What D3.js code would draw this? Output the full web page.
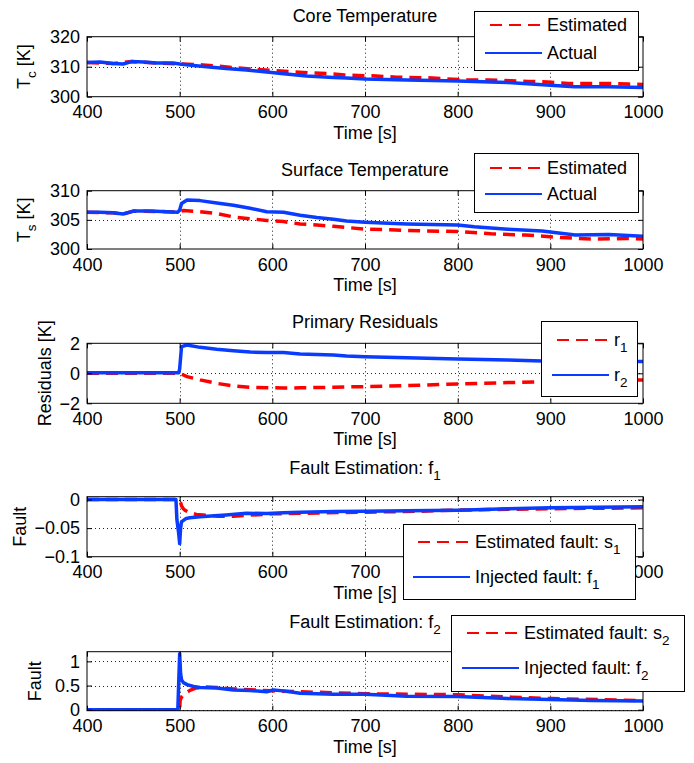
<!DOCTYPE html>
<html>
<head>
<meta charset="utf-8">
<script src="https://cdn.jsdelivr.net/npm/d3@7"></script>
<style>
  body { margin: 0; background: #fff; }
  text { font-family: "Liberation Sans", Arial, Helvetica, sans-serif; fill: #000; }
</style>
</head>
<body>
<div id="Figure"></div>
<script>
//////////////////////////////////////////////////////////////////////////
// data

var timeTicks = [400, 500, 600, 700, 800, 900, 1000];

// core temperature [K]
var coreActualTime = [400, 414, 428, 439, 448, 461, 475, 493, 500, 515, 529, 550, 572, 594, 615, 637, 666, 680, 700, 745, 800, 854, 900, 926, 962, 1000];
var coreActual     = [311.4, 311.6, 311.1, 310.9, 311.7, 311.6, 311.2, 311.2, 310.9, 310.4, 310.0, 309.4, 308.9, 308.2, 307.6, 306.9, 306.4, 306.2, 305.9, 305.6, 305.2, 304.7, 303.8, 303.3, 303.3, 303.1];
var coreEstTime    = [400, 428, 448, 475, 500, 525, 542, 560, 580, 602, 622, 645, 666, 678, 712, 734, 768, 789, 811, 833, 858, 876, 897, 919, 941, 962, 984, 1000];
var coreEstimated  = [311.4, 311.1, 311.7, 311.2, 310.9, 310.6, 310.2, 309.6, 309.2, 308.7, 308.3, 307.9, 307.6, 307.2, 306.9, 306.5, 306.3, 305.9, 305.6, 305.6, 305.3, 305.1, 304.9, 304.4, 304.4, 304.4, 304.2, 304.1];
var coreTicks = [300, 310, 320];

// surface temperature [K]
var surfActualTime = [400, 414, 428, 439, 450, 468, 486, 498, 500, 502, 508, 522, 540, 558, 576, 594, 612, 630, 648, 666, 680, 700, 745, 800, 818, 854, 891, 927, 963, 1000];
var surfActual     = [306.3, 306.3, 306.2, 306.0, 306.5, 306.5, 306.4, 306.3, 306.7, 307.8, 308.4, 308.3, 307.9, 307.5, 307.0, 306.4, 306.3, 305.8, 305.4, 305.1, 304.8, 304.6, 304.3, 304.1, 303.8, 303.4, 303.1, 302.4, 302.5, 302.2];
var surfEstTime    = [400, 428, 439, 450, 486, 498, 500, 504, 522, 540, 558, 576, 594, 612, 630, 648, 666, 680, 700, 727, 764, 800, 836, 873, 909, 945, 982, 1000];
var surfEstimated  = [306.3, 306.2, 306.0, 306.5, 306.4, 306.3, 306.4, 306.6, 306.4, 306.1, 305.5, 305.2, 304.9, 304.7, 304.3, 304.1, 303.9, 303.7, 303.4, 303.3, 303.1, 303.0, 302.6, 302.4, 302.0, 301.7, 301.8, 301.7];
var surfTicks = [300, 305, 310];

// primary residuals [K]
var r1Time = [400, 500, 508, 522, 540, 558, 576, 594, 612, 630, 666, 680, 700, 745, 800, 854, 891, 1000];
var r1     = [0, 0, -0.22, -0.44, -0.67, -0.84, -0.93, -0.96, -0.98, -0.97, -0.93, -0.91, -0.89, -0.82, -0.71, -0.62, -0.56, -0.44];
var r2Time = [400, 450, 499, 500, 502, 508, 522, 540, 558, 576, 594, 612, 630, 666, 680, 700, 745, 800, 854, 891, 1000];
var r2     = [0.03, 0.03, 0.03, 0.3, 1.78, 1.89, 1.73, 1.6, 1.51, 1.42, 1.38, 1.38, 1.29, 1.22, 1.16, 1.11, 1.04, 0.96, 0.89, 0.82, 0.78];
var resTicks = [-2, 0, 2];

// fault f1
var s1Time = [400, 499, 500, 501, 502, 504, 506, 511, 518, 525, 540, 558, 600, 700, 745, 800, 854, 900, 1000];
var s1     = [0, 0, -0.002, -0.005, -0.011, -0.016, -0.019, -0.023, -0.026, -0.027, -0.029, -0.029, -0.025, -0.022, -0.021, -0.0185, -0.017, -0.016, -0.0145];
var f1Time = [400, 496, 497, 499, 500, 501, 502, 507, 511, 522, 550, 572, 594, 612, 630, 666, 700, 745, 800, 854, 900, 1000];
var f1     = [0, 0, -0.035, -0.06, -0.077, -0.05, -0.039, -0.033, -0.032, -0.030, -0.027, -0.024, -0.0244, -0.023, -0.022, -0.021, -0.0205, -0.0195, -0.0185, -0.0163, -0.0145, -0.0128];
var f1Ticks = [-0.1, -0.05, 0];

// fault f2
var s2Time = [400, 500, 500.5, 502, 506, 511, 518, 529, 540, 558, 600, 700, 800, 858, 902, 1000];
var s2     = [0, 0, 0.2, 0.26, 0.34, 0.40, 0.45, 0.47, 0.46, 0.43, 0.39, 0.33, 0.31, 0.26, 0.23, 0.19];
var f2Time = [400, 498, 500, 501, 502, 504, 508, 515, 522, 540, 558, 576, 594, 601, 612, 630, 648, 666, 700, 745, 800, 854, 900, 945, 1000];
var f2     = [0, 0, 1.16, 0.75, 0.62, 0.56, 0.52, 0.48, 0.46, 0.45, 0.41, 0.40, 0.37, 0.41, 0.39, 0.34, 0.33, 0.32, 0.32, 0.28, 0.276, 0.23, 0.21, 0.19, 0.18];
var f2Ticks = [0, 0.5, 1];

//////////////////////////////////////////////////////////////////////////
// layout constants

var Width = 694;
var Height = 763;
var Left = 87;        // left edge of all axes
var Right = 643;      // right edge of all axes
var FontSize = 18;
var SubSize = 13.5;   // subscript size
var Red = "#ff0000";
var Blue = "#0a3cff";
var Dash = "12,7";

var panels = [
  { top: 36.7, bottom: 96.7, yDomain: [300, 320], yTicks: coreTicks, yGrid: [310],
    title: ["Core Temperature"], yLabel: ["T", "c", " [K]"], yLabelX: 24, titleUp: 15,
    series: [
      { name: ["Estimated"], time: coreEstTime, values: coreEstimated, color: Red, dashed: true },
      { name: ["Actual"], time: coreActualTime, values: coreActual, color: Blue, dashed: false } ],
    legend: { x: 474, y: 11, w: 164, h: 59, textX: 547, rows: [25, 53] } },
  { top: 190.7, bottom: 249, yDomain: [300, 310], yTicks: surfTicks, yGrid: [305],
    title: ["Surface Temperature"], yLabel: ["T", "s", " [K]"], yLabelX: 24, titleUp: 15,
    series: [
      { name: ["Estimated"], time: surfEstTime, values: surfEstimated, color: Red, dashed: true },
      { name: ["Actual"], time: surfActualTime, values: surfActual, color: Blue, dashed: false } ],
    legend: { x: 474, y: 153, w: 164, h: 59, textX: 547, rows: [168, 194] } },
  { top: 343.3, bottom: 403.3, yDomain: [-2, 2], yTicks: resTicks, yGrid: [0],
    title: ["Primary Residuals"], yLabel: ["Residuals [K]"], yLabelX: 45, titleUp: 15,
    series: [
      { name: ["r", "1"], time: r1Time, values: r1, color: Red, dashed: true },
      { name: ["r", "2"], time: r2Time, values: r2, color: Blue, dashed: false } ],
    legend: { x: 541, y: 321, w: 96, h: 75, textX: 614, rows: [340, 375] } },
  { top: 496.7, bottom: 556.7, yDomain: [-0.1, 0.005], yTicks: f1Ticks, yGrid: [-0.05, 0],
    title: ["Fault Estimation: f", "1"], yLabel: ["Fault"], yLabelX: 20, titleUp: 23,
    series: [
      { name: ["Estimated fault: s", "1"], time: s1Time, values: s1, color: Red, dashed: true },
      { name: ["Injected fault: f", "1"], time: f1Time, values: f1, color: Blue, dashed: false } ],
    legend: { x: 403, y: 524, w: 232, h: 75, textX: 475, rows: [542, 577] } },
  { top: 651.7, bottom: 710.7, yDomain: [-0.02, 1.2], yTicks: f2Ticks, yGrid: [0, 0.5, 1],
    title: ["Fault Estimation: f", "2"], yLabel: ["Fault"], yLabelX: 35, titleUp: 24,
    series: [
      { name: ["Estimated fault: s", "2"], time: s2Time, values: s2, color: Red, dashed: true },
      { name: ["Injected fault: f", "2"], time: f2Time, values: f2, color: Blue, dashed: false } ],
    legend: { x: 451, y: 615, w: 233, h: 76, textX: 524, rows: [633, 668] } }
];

//////////////////////////////////////////////////////////////////////////
// functions

function initialize () {
  var svg = d3.select("#Figure").append("svg")
      .attr("width", Width)
      .attr("height", Height);

  svg.append("rect").attr("width", Width).attr("height", Height).attr("fill", "#fff");

  panels.forEach(function (p, i) { drawPanel(svg, p, i); });
} // end initialize

// write text with an optional subscript: parts = [main, sub, rest]
function addRichText (sel, parts) {
  sel.append("tspan").text(parts[0]);
  if (parts.length > 1) {
    sel.append("tspan").attr("font-size", SubSize).attr("dy", 6).text(parts[1]);
  }
  if (parts.length > 2) {
    sel.append("tspan").attr("font-size", FontSize).attr("dy", -6).text(parts[2]);
  }
}

function drawPanel (svg, p, idx) {
  var xScale = d3.scaleLinear().domain([400, 1000]).range([Left, Right]);
  var yScale = d3.scaleLinear().domain(p.yDomain).range([p.bottom, p.top]);
  var g = svg.append("g");

  // clip the data to the axes box
  svg.append("clipPath").attr("id", "clip" + idx)
    .append("rect")
    .attr("x", Left).attr("y", p.top)
    .attr("width", Right - Left).attr("height", p.bottom - p.top);

  // dotted grid
  var grid = g.append("g").attr("stroke", "#222").attr("stroke-width", 1)
      .attr("stroke-dasharray", "1,3");
  grid.selectAll("line.vx")
    .data(timeTicks.slice(1, -1))
    .enter().append("line")
    .attr("x1", function (d) { return Math.round(xScale(d)) + 0.5; })
    .attr("x2", function (d) { return Math.round(xScale(d)) + 0.5; })
    .attr("y1", p.top).attr("y2", p.bottom);
  grid.selectAll("line.hy")
    .data(p.yGrid)
    .enter().append("line")
    .attr("x1", Left).attr("x2", Right)
    .attr("y1", function (d) { return Math.round(yScale(d)) + 0.5; })
    .attr("y2", function (d) { return Math.round(yScale(d)) + 0.5; });

  // data lines (estimated first, actual on top)
  var line = d3.line()
      .x(function (d) { return xScale(d[0]); })
      .y(function (d) { return yScale(d[1]); });

  g.append("g").attr("clip-path", "url(#clip" + idx + ")")
    .selectAll("path")
    .data(p.series)
    .enter().append("path")
    .attr("d", function (s) { return line(d3.zip(s.time, s.values)); })
    .attr("fill", "none")
    .attr("stroke", function (s) { return s.color; })
    .attr("stroke-width", 3.5)
    .attr("stroke-linejoin", "round")
    .attr("stroke-dasharray", function (s) { return s.dashed ? Dash : null; });

  // axes: ticks inside on all four sides
  var fmt = d3.format("");
  var bottomAxis = d3.axisBottom(xScale).tickValues(timeTicks).tickSize(-5).tickPadding(9).tickFormat(fmt);
  var topAxis = d3.axisTop(xScale).tickValues(timeTicks).tickSize(-5).tickFormat("");
  var leftAxis = d3.axisLeft(yScale).tickValues(p.yTicks).tickSize(-5).tickPadding(7).tickFormat(fmt);
  var rightAxis = d3.axisRight(yScale).tickValues(p.yTicks).tickSize(-5).tickFormat("");

  [[bottomAxis, "translate(0," + p.bottom + ")"],
   [topAxis, "translate(0," + p.top + ")"],
   [leftAxis, "translate(" + Left + ",0)"],
   [rightAxis, "translate(" + Right + ",0)"]].forEach(function (a) {
    var ax = g.append("g").attr("transform", a[1]).call(a[0]);
    ax.select(".domain").remove();
    ax.selectAll("line").attr("stroke", "#000");
    ax.selectAll("text").attr("font-size", FontSize)
      .attr("font-family", "'Liberation Sans', Arial, sans-serif").attr("fill", "#000");
  });

  // box
  g.append("rect")
    .attr("x", Left).attr("y", p.top)
    .attr("width", Right - Left).attr("height", p.bottom - p.top)
    .attr("fill", "none").attr("stroke", "#000").attr("stroke-width", 1);

  // title
  var title = g.append("text")
      .attr("x", (Left + Right) / 2).attr("y", p.top - p.titleUp)
      .attr("text-anchor", "middle").attr("font-size", FontSize);
  addRichText(title, p.title);

  // x label
  g.append("text")
    .attr("x", (Left + Right) / 2).attr("y", p.bottom + 42)
    .attr("text-anchor", "middle").attr("font-size", FontSize)
    .text("Time [s]");

  // y label
  var yl = g.append("text")
      .attr("transform", "translate(" + p.yLabelX + "," + ((p.top + p.bottom) / 2) + ") rotate(-90)")
      .attr("text-anchor", "middle").attr("dy", "0.35em").attr("font-size", FontSize);
  addRichText(yl, p.yLabel);

  // legend
  var L = p.legend;
  var lg = g.append("g");
  lg.append("rect")
    .attr("x", L.x + 0.5).attr("y", L.y + 0.5).attr("width", L.w).attr("height", L.h)
    .attr("fill", "#fff").attr("stroke", "#000").attr("stroke-width", 1);
  p.series.forEach(function (s, i) {
    var ry = L.rows[i];
    lg.append("line")
      .attr("x1", L.textX - (s.dashed ? 57 : 62)).attr("x2", L.textX - 5)
      .attr("y1", ry).attr("y2", ry)
      .attr("stroke", s.color).attr("stroke-width", 2)
      .attr("stroke-dasharray", s.dashed ? Dash : null);
    var t = lg.append("text")
        .attr("x", L.textX).attr("y", ry + 6)
        .attr("font-size", FontSize);
    addRichText(t, s.name);
  });
} // end drawPanel

initialize();
</script>
</body>
</html>
